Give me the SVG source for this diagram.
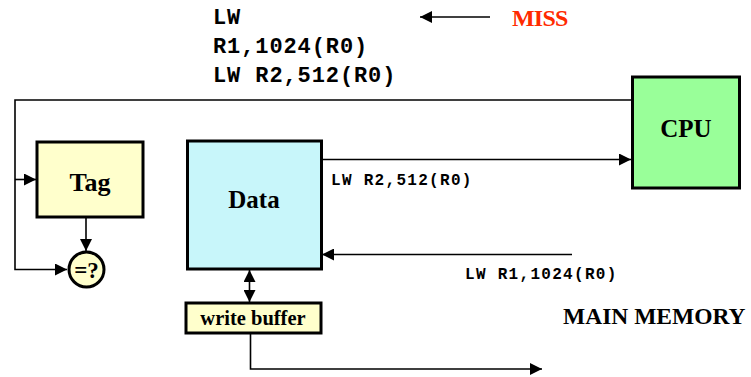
<svg xmlns="http://www.w3.org/2000/svg" width="751" height="377" viewBox="0 0 751 377">
  <style>
    .box { stroke: #000; stroke-width: 3; }
    .wire { fill: none; stroke: #000; stroke-width: 1.6; }
    .lbl { font-family: "Liberation Serif", "Times New Roman", serif; font-weight: bold; fill: #000; text-anchor: middle; }
    .code { font-family: "Liberation Mono", "Courier New", monospace; font-weight: bold; fill: #000; }
  </style>
  <defs>
    <marker id="arrowLg" viewBox="0 0 10 10" refX="10" refY="5" markerWidth="12" markerHeight="12" markerUnits="userSpaceOnUse" orient="auto-start-reverse">
      <path d="M0,0 L10,5 L0,10 z" fill="#000"/>
    </marker>
  </defs>

  <!-- instruction sequence -->
  <g id="instructions">
    <text class="code" x="213" y="24" font-size="22" letter-spacing="0.9">LW</text>
    <text class="code" x="213" y="53" font-size="22" letter-spacing="0.9">R1,1024(R0)</text>
    <text class="code" x="213" y="82" font-size="22" letter-spacing="0.9">LW R2,512(R0)</text>
  </g>
  <g id="miss">
    <text x="512" y="26" font-family="Liberation Serif, Times New Roman, serif" font-weight="bold" font-size="24" fill="#FF2A00" letter-spacing="-0.8">MISS</text>
  </g>

  <!-- connectors -->
  <g id="connectors">
    <line class="wire" x1="490" y1="17" x2="420" y2="17" marker-end="url(#arrowLg)"/>
    <polyline class="wire" points="632,100 15,100 15,269.5 67,269.5" marker-end="url(#arrowLg)"/>
    <line class="wire" x1="15" y1="179.5" x2="36" y2="179.5" marker-end="url(#arrowLg)"/>
    <line class="wire" x1="86" y1="217" x2="86" y2="251" marker-end="url(#arrowLg)"/>
    <line class="wire" x1="321" y1="159.5" x2="631" y2="159.5" marker-end="url(#arrowLg)"/>
    <line class="wire" x1="572" y1="254.5" x2="322" y2="254.5" marker-end="url(#arrowLg)"/>
    <line class="wire" x1="249.5" y1="270" x2="249.5" y2="302" marker-start="url(#arrowLg)" marker-end="url(#arrowLg)"/>
    <polyline class="wire" points="250.5,334 250.5,369 542,369" marker-end="url(#arrowLg)"/>
    <text class="code" x="331" y="185" font-size="16" letter-spacing="1.3">LW R2,512(R0)</text>
    <text class="code" x="465" y="279" font-size="16" letter-spacing="1.3">LW R1,1024(R0)</text>
  </g>

  <!-- nodes -->
  <g id="cpu">
    <rect class="box" x="632.5" y="77" width="107" height="111" fill="#99FF99"/>
    <text class="lbl" x="686" y="137" font-size="25">CPU</text>
  </g>
  <g id="tag">
    <rect class="box" x="37" y="142" width="106" height="75" fill="#FFFFCC"/>
    <text class="lbl" x="90" y="191" font-size="26">Tag</text>
  </g>
  <g id="compare">
    <circle class="box" cx="86.5" cy="269.5" r="17.5" fill="#FFFFCC"/>
    <text class="lbl" x="86.5" y="278" font-size="23">=?</text>
  </g>
  <g id="data">
    <rect class="box" x="187.5" y="141" width="134" height="128" fill="#C8F6FA"/>
    <text class="lbl" x="254" y="208" font-size="25">Data</text>
  </g>
  <g id="write-buffer">
    <rect class="box" x="186" y="303" width="135" height="30" fill="#FFFFCC"/>
    <text class="lbl" x="253" y="325" font-size="20.5">write buffer</text>
  </g>
  <g id="main-memory">
    <text x="563" y="324" font-family="Liberation Serif, Times New Roman, serif" font-weight="bold" font-size="23.5" fill="#000">MAIN MEMORY</text>
  </g>
</svg>
